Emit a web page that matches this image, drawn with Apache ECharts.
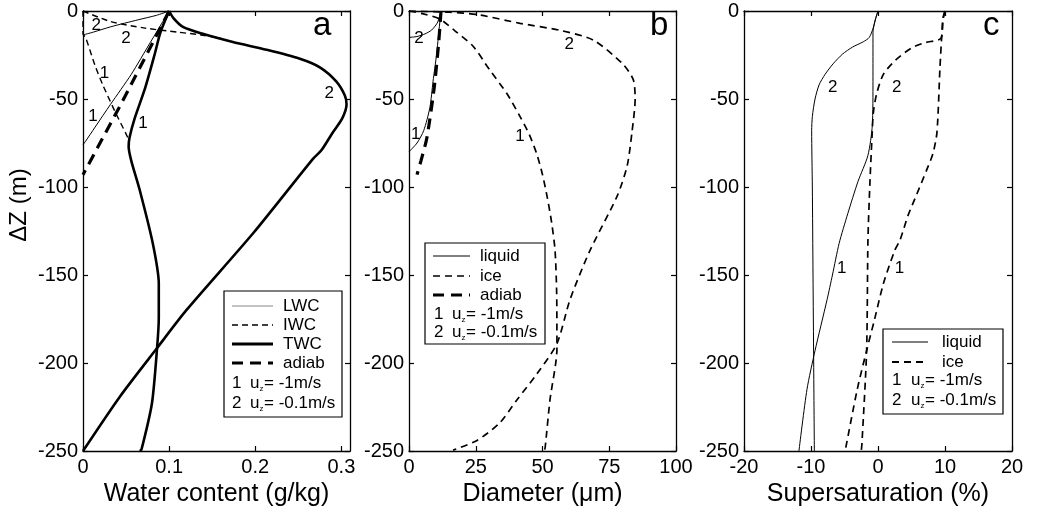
<!DOCTYPE html>
<html>
<head>
<meta charset="utf-8">
<script src="https://cdn.jsdelivr.net/npm/echarts@6/dist/echarts.min.js"></script>
<style>
  html, body { margin: 0; padding: 0; background: #fff; }
  #chart { width: 1039px; height: 517px; }
</style>
</head>
<body>
<div id="chart"></div>
<script>
// Vertical profiles below cloud top: each point is [value, ΔZ in m]
const zTicks = [0, -50, -100, -150, -200, -250];
const waterTicks = [0, 0.1, 0.2, 0.3];
const diamTicks = [0, 25, 50, 75, 100];
const supsatTicks = [-20, -10, 0, 10, 20];

// (a) water content, g/kg  (1: u_z = -1 m/s, 2: u_z = -0.1 m/s)
const lwc1 = [[0.1, 0], [0.078, -18], [0.056, -36], [0.032, -53], [0.014, -66], [0.003, -74], [0, -76]];
const lwc2 = [[0.1, 0], [0.085, -2.5], [0.064, -5], [0.032, -9], [0.012, -12], [0, -13.6]];
const iwc1 = [[0, 0], [0, -13], [0.003, -15], [0.014, -31], [0.023, -42], [0.037, -57], [0.052, -72], [0.054, -76]];
const iwc2 = [[0, 0], [0.032, -6], [0.072, -9.7], [0.110, -12], [0.137, -13.6], [0.16, -15.5]];
const twc1 = [[0.1, 0], [0.09, -12], [0.083, -25], [0.072, -44], [0.06, -61], [0.054, -72], [0.053, -77],
  [0.056, -85], [0.066, -102], [0.081, -132], [0.088, -155], [0.088, -174], [0.086, -191.5],
  [0.08, -223], [0.068, -249], [0.066, -250]];
const twc2 = [[0.1, 0], [0.105, -4], [0.116, -9], [0.138, -12.8], [0.174, -17.6], [0.213, -22], [0.251, -27],
  [0.275, -32], [0.294, -40], [0.304, -48], [0.306, -53], [0.301, -61], [0.29, -69], [0.277, -79],
  [0.267, -84], [0.198, -126], [0.12, -170], [0.086, -191.5], [0.043, -219], [0, -250]];
const adiabA = [[0.1, 0], [0.044, -53], [0, -93]];

// (b) mean diameter, μm
const liq1D = [[12, 0], [11.3, -10], [10.3, -25], [9.0, -40], [7.8, -55], [5.5, -68], [3, -75], [0, -80]];
const liq2D = [[12, 0], [11.5, -3], [10.5, -7], [8.5, -10.8], [6, -13], [3, -14.5], [0, -15]];
const ice1D = [[0, 0], [5, -1.5], [11.5, -4.5], [17, -11], [24, -20], [30, -33], [36.7, -47], [41.6, -60],
  [45, -70], [47.8, -81], [50, -93], [51.8, -106], [53.4, -120], [54.7, -136], [55.3, -160],
  [55.4, -192], [52.8, -221], [51, -248], [50.7, -250]];
const ice2D = [[0, 0], [15, -0.7], [25.5, -2], [41.6, -7], [56.6, -11], [69, -16.5], [80, -30], [84, -39],
  [84.7, -50], [83.5, -69], [81.7, -88], [78, -105], [67.8, -136], [60.3, -164], [55.4, -189],
  [48, -206], [40.4, -221], [34, -234], [25.5, -244], [16.5, -249.5]];
const adiabD = [[12, 0], [11, -20], [9.4, -44], [6.7, -72], [4.5, -85], [3, -93]];

// (c) supersaturation, %
const liq1S = [[0, 0], [-0.4, -5], [-0.75, -12], [-0.75, -40], [-0.85, -65], [-1.5, -82], [-3, -97],
  [-4.5, -115], [-5.8, -132], [-6.8, -150], [-7.6, -164], [-9.4, -193], [-10.6, -215], [-11.8, -250]];
const liq2S = [[0, 0], [-0.4, -5], [-0.75, -10], [-1.3, -15], [-2.2, -17.5], [-3.8, -20.5], [-5.3, -24.5],
  [-6.7, -30], [-7.9, -36], [-8.8, -42], [-9.4, -50], [-9.8, -60], [-9.9, -68], [-9.8, -100],
  [-9.7, -150], [-9.6, -200], [-9.5, -250]];
const ice1S = [[10, 0], [9.7, -4], [9.5, -15], [9.25, -32], [8.8, -69], [8.2, -81], [7.3, -90], [5.8, -104],
  [4.5, -116], [3.3, -130], [2.5, -136], [0.8, -155], [-0.5, -175], [-1.7, -193], [-3.1, -215], [-4.9, -250]];
const ice2S = [[10, 0], [9.7, -5], [9.4, -15.5], [7, -18], [5, -21], [2.6, -28], [0.8, -36], [-0.2, -47],
  [-0.7, -58], [-0.9, -72], [-1.2, -97], [-1.5, -130], [-1.7, -193], [-2.4, -246], [-2.5, -250]];

// Curve tags: [x, ΔZ, tag]
const tagsA = [[0.0154, -8.4, '2'], [0.050, -15.5, '2'], [0.025, -35.4, '1'], [0.0116, -60, '1'], [0.0695, -64, '1'], [0.286, -47, '2']];
const tagsB = [[3.7, -15.5, '2'], [2.5, -70, '1'], [60, -19, '2'], [41.6, -71.4, '1']];
const tagsC = [[-6.76, -43.4, '2'], [2.8, -43.4, '2'], [-5.4, -146, '1'], [3.2, -146, '1']];

const FONT = '"Liberation Sans", Arial, Helvetica, sans-serif';
const INK = '#000';

const panels = [
  { left: 83, width: 267, xmin: 0, xmax: 0.31, step: 0.1, ticks: waterTicks, name: 'Water content (g/kg)' },
  { left: 409, width: 267, xmin: 0, xmax: 100, step: 25, ticks: diamTicks, name: 'Diameter (μm)' },
  { left: 744, width: 268, xmin: -20, xmax: 20, step: 10, ticks: supsatTicks, name: 'Supersaturation (%)' }
];
const TOP = 11, HEIGHT = 440;

const axisLineStyle = { color: INK, width: 1.3 };
const tickStyle = { show: true, inside: true, length: 5, lineStyle: { color: INK, width: 1.2 } };

const grid = [], xAxis = [], yAxis = [];
panels.forEach((p, i) => {
  grid.push({ left: p.left, width: p.width, top: TOP, height: HEIGHT });
  xAxis.push({
    type: 'value', gridIndex: i, position: 'bottom', min: p.xmin, max: p.xmax, interval: p.step,
    axisLine: { show: true, onZero: false, lineStyle: axisLineStyle },
    axisTick: Object.assign({ customValues: p.ticks }, tickStyle),
    axisLabel: { customValues: p.ticks, color: INK, fontSize: 20, fontFamily: FONT, margin: 6 },
    splitLine: { show: false },
    name: p.name, nameLocation: 'middle', nameGap: 29,
    nameTextStyle: { color: INK, fontSize: 25, fontFamily: FONT }
  });
  xAxis.push({
    type: 'value', gridIndex: i, position: 'top', min: p.xmin, max: p.xmax, interval: p.step,
    axisLine: { show: true, onZero: false, lineStyle: axisLineStyle },
    axisTick: Object.assign({ customValues: p.ticks }, tickStyle),
    axisLabel: { show: false }, splitLine: { show: false }
  });
  yAxis.push({
    type: 'value', gridIndex: i, position: 'left', min: -250, max: 0, interval: 50,
    axisLine: { show: true, onZero: false, lineStyle: axisLineStyle },
    axisTick: Object.assign({ customValues: zTicks }, tickStyle),
    axisLabel: { customValues: zTicks, color: INK, fontSize: 20, fontFamily: FONT, margin: 5 },
    splitLine: { show: false }
  });
  yAxis.push({
    type: 'value', gridIndex: i, position: 'right', min: -250, max: 0, interval: 50,
    axisLine: { show: true, onZero: false, lineStyle: axisLineStyle },
    axisTick: Object.assign({ customValues: zTicks }, tickStyle),
    axisLabel: { show: false }, splitLine: { show: false }
  });
});

// Line styles
const thin = { color: INK, width: 1, type: 'solid' };
const thinDash = { color: INK, width: 1.4, type: [6, 4] };
const iceDash = { color: INK, width: 1.7, type: [7, 5] };
const thick = { color: INK, width: 2.6, type: 'solid' };
const thickDash = { color: INK, width: 3.2, type: [11, 7] };

function curve(panel, data, style, smooth) {
  return {
    type: 'line', xAxisIndex: panel * 2, yAxisIndex: panel * 2, data: data,
    showSymbol: false, symbol: 'none', smooth: smooth === undefined ? 0.25 : smooth,
    lineStyle: style, silent: true, animation: false
  };
}
function tags(panel, data) {
  return {
    type: 'scatter', xAxisIndex: panel * 2, yAxisIndex: panel * 2, data: data,
    symbolSize: 1, itemStyle: { color: 'rgba(0,0,0,0)' }, silent: true, animation: false, z: 5,
    label: {
      show: true, position: 'inside', formatter: (d) => d.value[2],
      color: INK, opacity: 1, textBorderWidth: 0, textBorderColor: 'transparent',
      fontSize: 17, fontFamily: FONT
    }
  };
}

const series = [
  curve(0, lwc1, thin), curve(0, lwc2, thin), curve(0, iwc1, thinDash), curve(0, iwc2, thinDash),
  curve(0, twc1, thick), curve(0, twc2, thick), curve(0, adiabA, thickDash, false), tags(0, tagsA),
  curve(1, liq1D, thin), curve(1, liq2D, thin), curve(1, ice1D, iceDash), curve(1, ice2D, iceDash),
  curve(1, adiabD, thickDash), tags(1, tagsB),
  curve(2, liq1S, thin), curve(2, liq2S, thin), curve(2, ice1S, iceDash), curve(2, ice2S, iceDash), tags(2, tagsC)
];

// Legend boxes drawn as graphics
const textStyleBase = { fill: INK, fontSize: 17, fontFamily: FONT, verticalAlign: 'middle' };
function legend(box, rows) {
  const out = [{
    type: 'rect', shape: { x: box.x, y: box.y, width: box.w, height: box.h },
    style: { fill: '#fff', stroke: INK, lineWidth: 1.2 }, z: 100
  }];
  rows.forEach((r) => {
    if (r.style) {
      out.push({
        type: 'line', shape: { x1: box.lx1, y1: r.y, x2: box.lx2, y2: r.y },
        style: { stroke: r.gray ? '#888' : INK, lineWidth: r.style.width, lineDash: r.style.type === 'solid' ? null : r.style.type },
        z: 101
      });
      out.push({ type: 'text', x: box.tx, y: r.y, style: Object.assign({ text: r.label }, textStyleBase), z: 101 });
    } else {
      out.push({ type: 'text', x: box.nx, y: r.y, style: Object.assign({ text: r.num }, textStyleBase), z: 101 });
      out.push({ type: 'text', x: box.ux, y: r.y, style: Object.assign({ text: 'u' }, textStyleBase), z: 101 });
      out.push({ type: 'text', x: box.ux + 9.5, y: r.y + 6, style: Object.assign({}, textStyleBase, { text: 'z', fontSize: 8 }), z: 101 });
      out.push({ type: 'text', x: box.ux + 14, y: r.y, style: Object.assign({ text: '= ' + r.speed }, textStyleBase), z: 101 });
    }
  });
  return out;
}

const graphic = [].concat(
  legend({ x: 224, y: 291, w: 118, h: 126, lx1: 232, lx2: 273, tx: 283, nx: 232, ux: 250 }, [
    { y: 306, style: { width: 1.2, type: 'solid' }, gray: true, label: 'LWC' },
    { y: 325, style: thinDash, label: 'IWC' },
    { y: 344, style: { width: 3.2, type: 'solid' }, label: 'TWC' },
    { y: 363, style: thickDash, label: 'adiab' },
    { y: 383, num: '1', speed: '-1m/s' },
    { y: 403, num: '2', speed: '-0.1m/s' }
  ]),
  legend({ x: 425, y: 243, w: 120, h: 101, lx1: 433, lx2: 470, tx: 480, nx: 434, ux: 452 }, [
    { y: 256, style: thin, label: 'liquid' },
    { y: 276, style: iceDash, label: 'ice' },
    { y: 295, style: thickDash, label: 'adiab' },
    { y: 314, num: '1', speed: '-1m/s' },
    { y: 332, num: '2', speed: '-0.1m/s' }
  ]),
  legend({ x: 883, y: 329, w: 120, h: 85, lx1: 892, lx2: 928, tx: 942, nx: 892, ux: 911 }, [
    { y: 342, style: thin, label: 'liquid' },
    { y: 362, style: { width: 2, type: [7, 5] }, label: 'ice' },
    { y: 380, num: '1', speed: '-1m/s' },
    { y: 400, num: '2', speed: '-0.1m/s' }
  ]),
  // vertical axis title of the first panel
  [{
    type: 'text', x: 19, y: 205, rotation: Math.PI / 2,
    style: { text: 'ΔZ (m)', fill: INK, fontSize: 24, fontFamily: FONT, align: 'center', verticalAlign: 'middle' }
  }]
);

// Panel letters
const title = [
  { text: 'a', left: 313, top: 9 },
  { text: 'b', left: 650, top: 9 },
  { text: 'c', left: 983, top: 9 }
].map(t => Object.assign(t, { padding: 0, textStyle: { color: INK, fontSize: 33, fontWeight: 'normal', fontFamily: FONT } }));

const chart = echarts.init(document.getElementById('chart'), null, { renderer: 'canvas' });
chart.setOption({
  backgroundColor: '#fff',
  animation: false,
  title: title,
  grid: grid,
  xAxis: xAxis,
  yAxis: yAxis,
  series: series,
  graphic: graphic
});
</script>
</body>
</html>
